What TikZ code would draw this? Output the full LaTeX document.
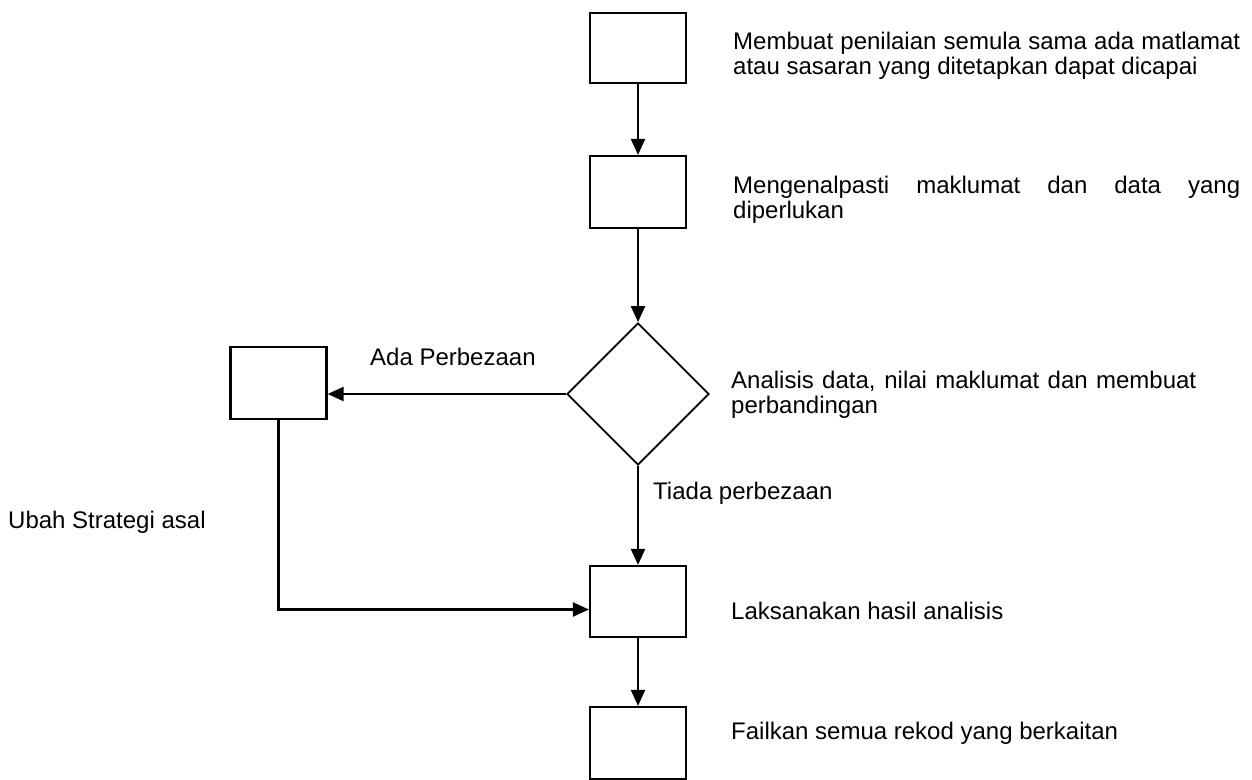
\documentclass[tikz,border=0pt]{standalone}
\usepackage{fontspec}
\setmainfont{Liberation Sans}
\usetikzlibrary{shapes.geometric,arrows.meta,calc}
\begin{document}
\begin{tikzpicture}[x=1pt,y=-1pt,
  box/.style={draw,line width=2.2pt,inner sep=0pt,minimum width=96pt},
  dia/.style={draw,diamond,line width=1.8pt,inner sep=0pt,minimum width=142pt,minimum height=142pt},
  lbl/.style={anchor=west,inner sep=0pt,align=left,font=\fontsize{24}{25}\selectfont},
  arr/.style={line width=2.2pt,-{Triangle[length=16pt,width=14pt]}}]
\useasboundingbox (0,0) rectangle (1252,779);
\node[box,minimum height=70pt] (b1) at (638,48) {};
\node[box,minimum height=72pt] (b2) at (638,192) {};
\node[dia] (d) at (638,394) {};
\node[box,minimum height=72pt] (c) at (278.5,383) {};
\node[box,minimum height=71pt] (b4) at (638,601.5) {};
\node[box,minimum height=72pt] (b5) at (638,743) {};
\draw[arr] (b1.south) -- (b2.north);
\draw[arr] (b2.south) -- (d.north);
\draw[arr] (d.west) -- (d.west -| c.east);
\draw[arr] (d.south) -- (b4.north);
\draw[arr] (c.south) |- ($(b4.west)+(0,8)$);
\draw[arr] (b4.south) -- (b5.north);
\node[lbl] (t1) at (733,55.5) {\makebox[507pt][s]{Membuat penilaian semula sama ada matlamat}\\atau sasaran yang ditetapkan dapat dicapai};
\node[lbl] (t2) at (733,200) {\makebox[507pt][s]{Mengenalpasti maklumat dan data yang}\\diperlukan};
\node[lbl] (t3) at (370,357) {Ada Perbezaan};
\node[lbl] (t4) at (731,394.5) {\makebox[465pt][s]{Analisis data, nilai maklumat dan membuat}\\perbandingan};
\node[lbl] (t5) at (653,493) {Tiada perbezaan};
\node[lbl] (t6) at (8,522) {Ubah Strategi asal};
\node[lbl] (t7) at (731,611) {Laksanakan hasil analisis};
\node[lbl] (t8) at (731,733) {Failkan semua rekod yang berkaitan};
\end{tikzpicture}
\end{document}
